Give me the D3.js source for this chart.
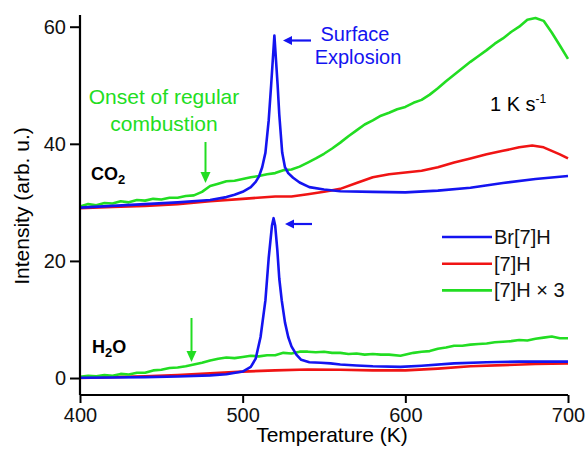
<!DOCTYPE html>
<html lang="en">
  <head>
    <meta charset="UTF-8" />
    <title>TPD intensity</title>
    <script src="https://cdn.jsdelivr.net/npm/d3@7"></script>
    <style>
      body { margin: 0; background: #fff; }
      text { font-family: "Liberation Sans", Arial, sans-serif; }
    </style>
  </head>
  <body>
    <svg width="588" height="451"></svg>

    <script>
      // CO2 traces
      const co2BrT = [400, 420, 440, 460, 480, 490, 495, 500, 505, 508, 510, 512, 514, 516, 517.5, 519.5, 521.5, 522.5, 524.3, 526, 528, 531, 535, 541, 550, 560, 580, 600, 620, 640, 660, 680, 700];
      const co2BrV = [29.1, 29.4, 29.7, 30.0, 30.4, 30.9, 31.3, 31.8, 32.6, 33.5, 34.4, 36.0, 38.5, 44.0, 50.0, 58.5, 50.0, 45.0, 38.5, 36.0, 35.0, 34.2, 33.4, 32.6, 32.2, 31.9, 31.8, 31.7, 32.0, 32.5, 33.3, 34.0, 34.5];

      const co2HT = [400, 420, 440, 460, 480, 500, 520, 530, 540, 550, 560, 570, 580, 590, 600, 610, 620, 630, 640, 650, 660, 670, 678, 685, 690, 695, 700];
      const co2HV = [29.0, 29.2, 29.4, 29.7, 30.2, 30.6, 31.0, 31.0, 31.4, 31.8, 32.3, 33.3, 34.3, 34.8, 35.1, 35.4, 36.0, 36.8, 37.5, 38.2, 38.8, 39.4, 39.7, 39.4, 38.8, 38.2, 37.5];

      const co2H3T = [400, 405, 410, 415, 420, 425, 430, 435, 440, 445, 450, 455, 460, 465, 470, 475, 480, 485, 490, 495, 500, 505, 510, 515, 520, 525, 530, 535, 540, 545, 550, 555, 560, 565, 570, 575, 580, 585, 590, 595, 600, 605, 610, 615, 620, 625, 630, 635, 640, 645, 650, 655, 660, 665, 670, 675, 680, 685, 690, 695, 700];
      const co2H3V = [29.3, 29.7, 29.5, 29.9, 29.8, 30.2, 30.0, 30.4, 30.3, 30.6, 30.5, 30.8, 30.8, 31.1, 31.2, 31.8, 32.8, 33.2, 33.6, 33.7, 34.0, 34.3, 34.5, 34.8, 35.0, 35.5, 35.6, 36.1, 36.8, 37.5, 38.3, 39.2, 40.2, 41.3, 42.3, 43.3, 44.0, 44.8, 45.3, 45.9, 46.3, 47.0, 47.5, 48.4, 49.5, 50.7, 51.8, 52.9, 54.0, 55.0, 56.0, 57.1, 58.0, 59.1, 60.0, 61.2, 61.5, 61.0, 59.0, 56.8, 54.5];

      // H2O traces
      const h2oBrT = [400, 420, 440, 460, 480, 490, 500, 505, 508, 511, 514, 516, 518, 519, 520, 521.3, 522.5, 524, 526, 528, 530, 533, 536, 541, 548, 554, 560, 570, 580, 597, 610, 630, 650, 670, 700];
      const h2oBrV = [0.05, 0.1, 0.15, 0.25, 0.45, 0.65, 1.1, 1.9, 3.3, 7.0, 13.3, 20.5, 26.0, 27.3, 26.0, 21.9, 17.0, 13.3, 9.5, 7.0, 5.4, 4.0, 3.1, 2.7, 2.6, 2.5, 2.3, 2.15, 2.0, 1.9, 2.1, 2.5, 2.7, 2.8, 2.8];

      const h2oHT = [400, 420, 440, 460, 480, 500, 520, 540, 560, 580, 600, 620, 640, 660, 680, 700];
      const h2oHV = [0.0, 0.15, 0.3, 0.5, 0.8, 1.1, 1.3, 1.45, 1.4, 1.3, 1.3, 1.6, 2.0, 2.2, 2.4, 2.5];

      const h2oH3T = [400, 405, 410, 415, 420, 425, 430, 435, 440, 445, 450, 455, 460, 465, 470, 475, 480, 485, 490, 495, 500, 505, 510, 515, 520, 525, 530, 535, 540, 545, 550, 555, 560, 565, 570, 575, 580, 585, 590, 597, 605, 610, 615, 620, 625, 630, 635, 640, 645, 650, 655, 660, 665, 670, 675, 680, 685, 690, 695, 700];
      const h2oH3V = [0.2, 0.4, 0.3, 0.5, 0.4, 0.7, 0.6, 0.9, 0.9, 1.3, 1.4, 1.7, 1.8, 2.0, 2.3, 2.6, 3.0, 3.3, 3.5, 3.4, 3.6, 3.8, 3.7, 3.9, 3.9, 4.3, 4.2, 4.5, 4.5, 4.4, 4.5, 4.3, 4.3, 4.1, 4.2, 4.0, 4.1, 4.0, 4.0, 3.8, 4.3, 4.5, 4.6, 5.0, 5.2, 5.5, 5.5, 5.7, 5.8, 5.9, 6.1, 6.2, 6.3, 6.5, 6.4, 6.7, 6.9, 7.1, 6.8, 6.8];

      const xTicks = [400, 500, 600, 700];
      const yTicks = [0, 20, 40, 60];
      const legendLabels = ["Br[7]H", "[7]H", "[7]H \u00d7 3"];
      const colors = ["#1414f0", "#f01414", "#22dd22"];

      const svg = d3.select("svg");

      const x = d3.scaleLinear().domain([400, 700]).range([80, 568]);
      const y = d3.scaleLinear().domain([-2.9, 62]).range([395, 15]);

      const line = d3.line()
        .x((d) => x(d[0]))
        .y((d) => y(d[1]));

      const series = [
        [co2HT, co2HV, 1], [h2oHT, h2oHV, 1],
        [co2H3T, co2H3V, 2], [h2oH3T, h2oH3V, 2],
        [co2BrT, co2BrV, 0], [h2oBrT, h2oBrV, 0]
      ];

      series.forEach(([ts, vs, c]) => {
        svg.append("path")
          .datum(d3.zip(ts, vs))
          .attr("d", line)
          .attr("fill", "none")
          .attr("stroke", colors[c])
          .attr("stroke-width", 2.6)
          .attr("stroke-linejoin", "round");
      });

      // axes
      const xAxis = svg.append("g").attr("transform", "translate(0,395)");
      xAxis.call(d3.axisBottom(x).tickValues(d3.range(400, 701, 20)).tickSize(5).tickFormat(""));
      xAxis.call(d3.axisBottom(x).tickValues(xTicks).tickSize(8).tickPadding(5).tickFormat(d3.format("d")));
      const yAxis = svg.append("g").attr("transform", "translate(80,0)");
      yAxis.call(d3.axisLeft(y).tickValues(d3.range(0, 61, 10)).tickSize(6).tickFormat(""));
      yAxis.call(d3.axisLeft(y).tickValues(yTicks).tickSize(10).tickPadding(4).tickFormat(d3.format("d")));
      svg.selectAll(".domain").attr("stroke", "#000").attr("stroke-width", 2.2);
      svg.selectAll(".tick line").attr("stroke", "#000").attr("stroke-width", 2);
      svg.selectAll(".tick text").attr("font-size", 20).attr("fill", "#111")
        .style("font-family", "'Liberation Sans', Arial, sans-serif");
      xAxis.selectAll("path.domain").attr("d", "M80,0H568");
      yAxis.selectAll("path.domain").attr("d", "M0,395V15");

      svg.append("text").attr("x", 332).attr("y", 442).attr("text-anchor", "middle")
        .attr("font-size", 21).text("Temperature (K)");
      svg.append("text").attr("transform", "translate(29,206) rotate(-90)").attr("text-anchor", "middle")
        .attr("font-size", 21).text("Intensity (arb. u.)");

      // annotations
      const blue = colors[0], green = colors[2];
      svg.append("text").attr("x", 355).attr("y", 41).attr("text-anchor", "middle")
        .attr("font-size", 20).attr("fill", blue).text("Surface");
      svg.append("text").attr("x", 358).attr("y", 64).attr("text-anchor", "middle")
        .attr("font-size", 20).attr("fill", blue).text("Explosion");

      function hArrow(x1, x2, yy, col) {
        svg.append("line").attr("x1", x1).attr("x2", x2 + 6).attr("y1", yy).attr("y2", yy)
          .attr("stroke", col).attr("stroke-width", 2.2);
        svg.append("path").attr("d", `M${x2},${yy}L${x2 + 9},${yy - 4.5}L${x2 + 9},${yy + 4.5}Z`).attr("fill", col);
      }
      function vArrow(xx, y1, y2, col) {
        svg.append("line").attr("x1", xx).attr("x2", xx).attr("y1", y1).attr("y2", y2 - 6)
          .attr("stroke", col).attr("stroke-width", 2);
        svg.append("path").attr("d", `M${xx},${y2}L${xx - 5},${y2 - 11}L${xx + 5},${y2 - 11}Z`).attr("fill", col);
      }
      hArrow(311, 283, 40.5, blue);
      hArrow(312, 285, 224, blue);
      vArrow(205.5, 142, 183, green);
      vArrow(191.5, 318, 362, green);

      svg.append("text").attr("x", 164).attr("y", 104).attr("text-anchor", "middle")
        .attr("font-size", 21).attr("fill", green).text("Onset of regular");
      svg.append("text").attr("x", 164).attr("y", 131).attr("text-anchor", "middle")
        .attr("font-size", 21).attr("fill", green).text("combustion");

      const co2 = svg.append("text").attr("x", 91).attr("y", 180).attr("font-size", 18).attr("font-weight", "bold");
      co2.append("tspan").text("CO");
      co2.append("tspan").attr("font-size", 13).attr("dy", 4).text("2");
      const h2o = svg.append("text").attr("x", 92).attr("y", 353).attr("font-size", 18).attr("font-weight", "bold");
      h2o.append("tspan").text("H");
      h2o.append("tspan").attr("font-size", 13).attr("dy", 4).text("2");
      h2o.append("tspan").attr("dy", -4).text("O");

      const rate = svg.append("text").attr("x", 490).attr("y", 111).attr("font-size", 20);
      rate.append("tspan").text("1 K s");
      rate.append("tspan").attr("font-size", 12).attr("dy", -8).text("-1");

      // legend
      const leg = svg.append("g");
      legendLabels.forEach((lab, i) => {
        const ly = 237 + i * 26.7;
        leg.append("line").attr("x1", 442).attr("x2", 492).attr("y1", ly).attr("y2", ly)
          .attr("stroke", colors[i]).attr("stroke-width", 2.6);
        leg.append("text").attr("x", 494).attr("y", ly + 7).attr("font-size", 20).attr("fill", "#111").text(lab);
      });
    </script>
  </body>
</html>
